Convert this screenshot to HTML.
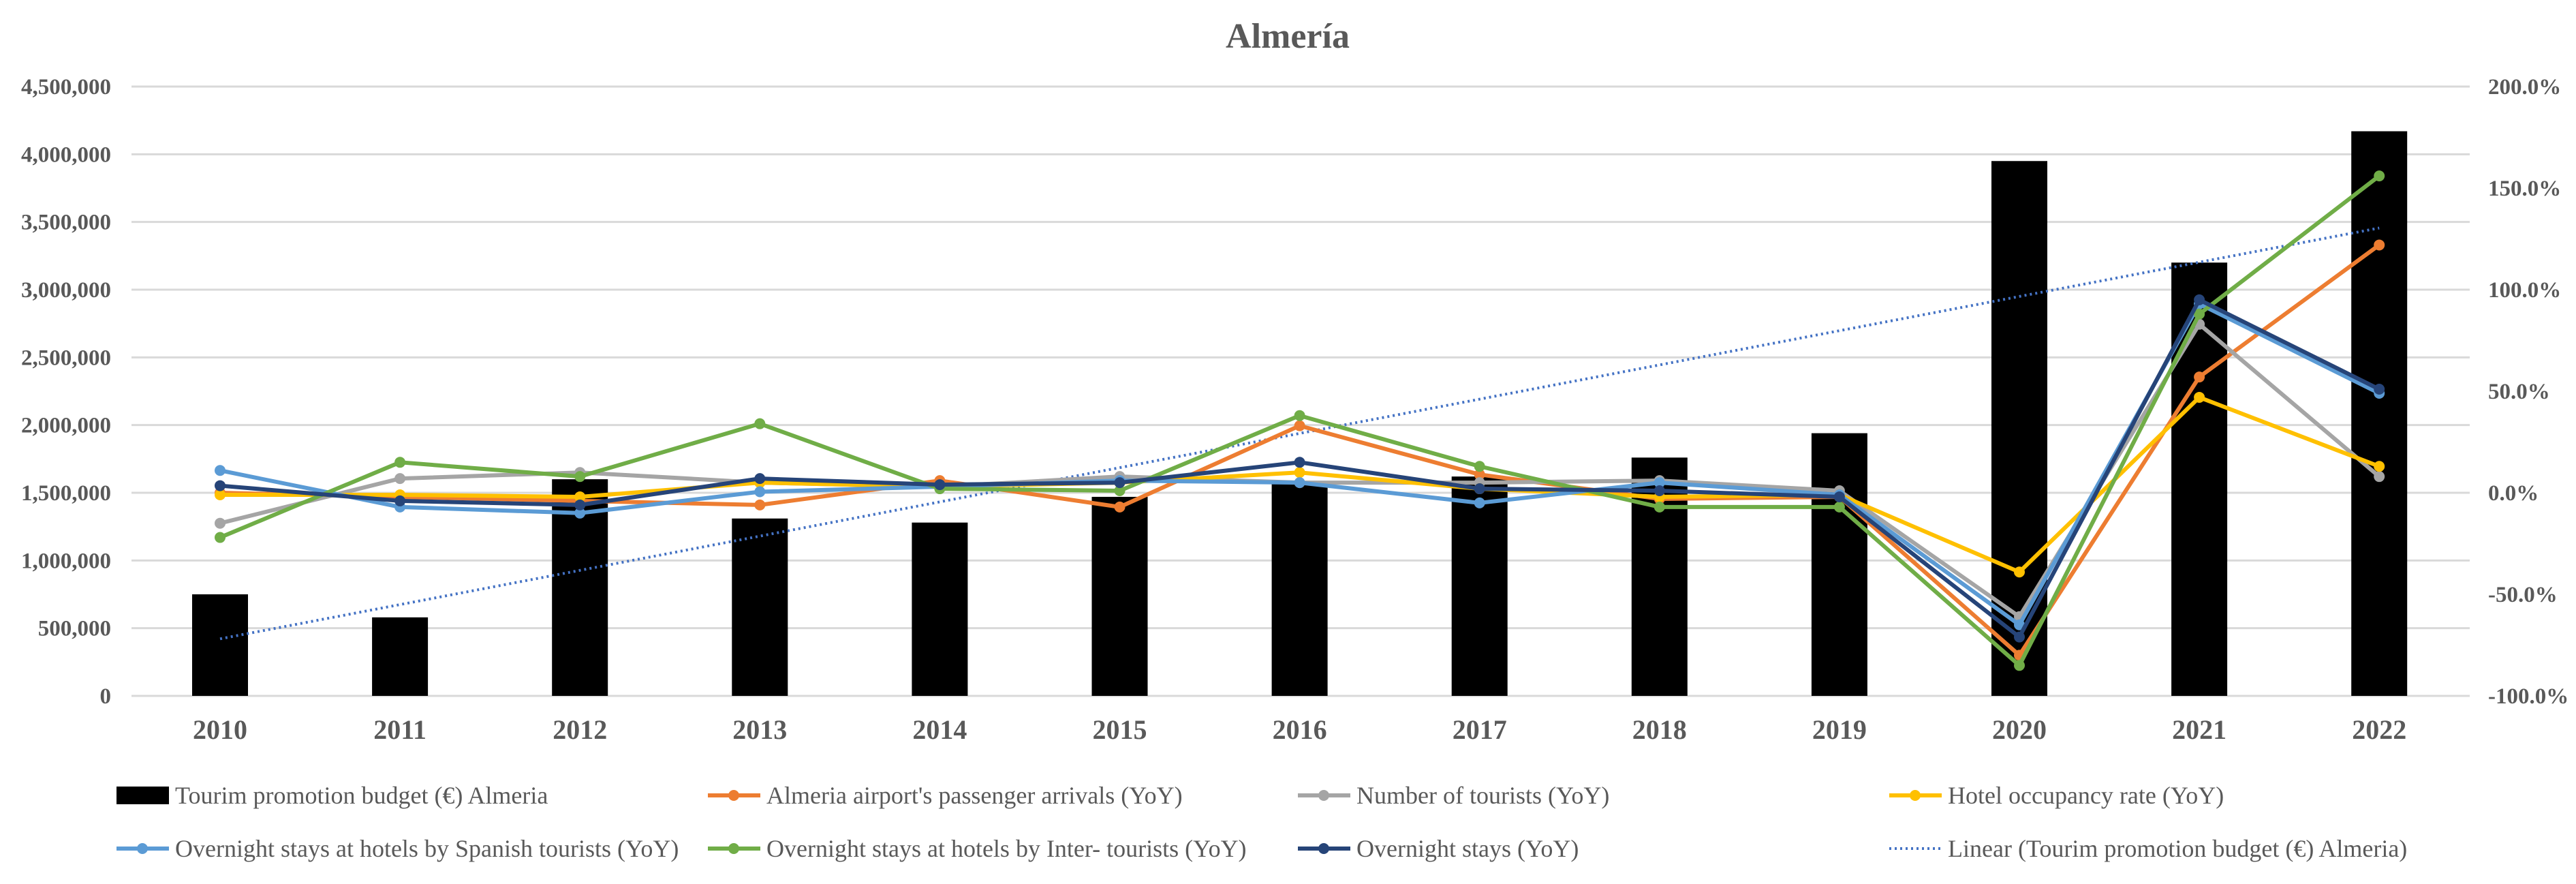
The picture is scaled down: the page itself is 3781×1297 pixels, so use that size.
<!DOCTYPE html>
<html><head><meta charset="utf-8"><style>
body{margin:0;background:#fff}
svg{display:block;font-family:"Liberation Serif",serif}
</style></head><body>
<svg id="chart" width="3781" height="1297" viewBox="0 0 3781 1297">
<text x="1890" y="70" text-anchor="middle" font-size="52" font-weight="bold" fill="#595959">Almería</text>
<g id="grid"></g><g id="bars"></g><g id="trend"></g><g id="lines"></g><g id="axes"></g><g id="legend"></g>
</svg>
<script>
const years=["2010","2011","2012","2013","2014","2015","2016","2017","2018","2019","2020","2021","2022"];
const budget=[750000,580000,1600000,1310000,1280000,1470000,1570000,1620000,1760000,1940000,3950000,3200000,4170000];
const airport=[0,-2,-4,-6,6,-7,33,9,-3,-2,-80,57,122];
const tourists=[-15,7,10,5,3,8,5,5,6,1,-61,83,8];
const occupancy=[-1,-1,-2,5,3,5,10,2,-2,-1,-39,47,13];
const spanish=[11,-7,-10,0.5,3,6,5,-5,5,-1,-65,93,49];
const inter=[-22,15,8,34,2,1,38,13,-7,-7,-85,88,156];
const stays=[3.5,-4,-6,7,4,5,15,2,1,-2,-71,95,51];
const leftTicks=[0,500000,1000000,1500000,2000000,2500000,3000000,3500000,4000000,4500000];
const rightTicks=[-100,-50,0,50,100,150,200];
const NS="http://www.w3.org/2000/svg";
const X0=323,DX=264.1,YT=127,YB=1021;
const xs=i=>X0+i*DX;
const yL=v=>YB-v/4500000*(YB-YT);
const yR=p=>YB-(p+100)/300*(YB-YT);
function mk(tag,attrs,parent){const e=document.createElementNS(NS,tag);for(const k in attrs)e.setAttribute(k,attrs[k]);document.getElementById(parent).appendChild(e);return e;}
leftTicks.forEach(t=>{
  const g=mk("line",{x1:193,x2:3625,y1:yL(t),y2:yL(t),stroke:"#d9d9d9","stroke-width":3},"grid");
  
  
  const l=mk("text",{x:163,y:yL(t)+11,"text-anchor":"end","font-size":33,"font-weight":"bold",fill:"#595959"},"axes");
  l.textContent=t.toLocaleString("en-US");
  
  
});
rightTicks.forEach(t=>{
  const l=mk("text",{x:3652,y:yR(t)+11,"font-size":33,"font-weight":"bold",fill:"#595959"},"axes");
  l.textContent=t.toFixed(1)+"%";
  
  
});
years.forEach((y,i)=>{
  const l=mk("text",{x:xs(i),y:1084,"text-anchor":"middle","font-size":40,"font-weight":"bold",fill:"#595959"},"axes");
  l.textContent=y;
  
  
});
budget.forEach((v,i)=>{
  const r=mk("rect",{x:xs(i)-41,y:yL(v),width:82,height:YB-yL(v),fill:"#000"},"bars");
  
  
});
(function(){const n=budget.length;let sx=0,sy=0,sxy=0,sxx=0;budget.forEach((v,i)=>{sx+=i;sy+=v;sxy+=i*v;sxx+=i*i;});
const b=(n*sxy-sx*sy)/(n*sxx-sx*sx),a=(sy-b*sx)/n;
const t=mk("line",{x1:xs(0),y1:yL(a),x2:xs(n-1),y2:yL(a+b*(n-1)),stroke:"#4472c4","stroke-width":4,"stroke-dasharray":"3 5"},"trend");

})();
const series=[[airport,"#ed7d31","airport-arrivals-line"],[tourists,"#a5a5a5","tourists-line"],[occupancy,"#ffc000","occupancy-line"],[spanish,"#5b9bd5","spanish-stays-line"],[inter,"#70ad47","inter-stays-line"],[stays,"#264478","overnight-stays-line"]];
series.forEach(([d,c,n])=>{
  const p=mk("polyline",{points:d.map((v,i)=>xs(i)+","+yR(v)).join(" "),fill:"none",stroke:c,"stroke-width":6},"lines");
  
  
  d.forEach((v,i)=>{const m=mk("circle",{cx:xs(i),cy:yR(v),r:8,fill:c},"lines");
    
    });
});
const legend=[["Tourim promotion budget (€) Almeria","#000","bar",171,1167],["Almeria airport's passenger arrivals (YoY)","#ed7d31","line",1039,1167],["Number of tourists (YoY)","#a5a5a5","line",1905,1167],["Hotel occupancy rate (YoY)","#ffc000","line",2773,1167],["Overnight stays at hotels by Spanish tourists (YoY)","#5b9bd5","line",171,1245],["Overnight stays at hotels by Inter- tourists (YoY)","#70ad47","line",1039,1245],["Overnight stays (YoY)","#264478","line",1905,1245],["Linear (Tourim promotion budget (€) Almeria)","#4472c4","dot",2773,1245]];
legend.forEach(([t,c,k,x,y])=>{
  if(k==="bar"){const r=mk("rect",{x:x,y:y-13,width:77,height:26,fill:c},"legend");}
  else if(k==="line"){const l=mk("line",{x1:x,x2:x+77,y1:y,y2:y,stroke:c,"stroke-width":6},"legend");
    const m=mk("circle",{cx:x+38,cy:y,r:8,fill:c},"legend");}
  else{const l=mk("line",{x1:x,x2:x+77,y1:y,y2:y,stroke:c,"stroke-width":4,"stroke-dasharray":"3 5"},"legend");}
  const tx=mk("text",{x:x+86,y:y+12,"font-size":36,fill:"#595959"},"legend");
  tx.textContent=t;
  
  
});
</script>
</body></html>
